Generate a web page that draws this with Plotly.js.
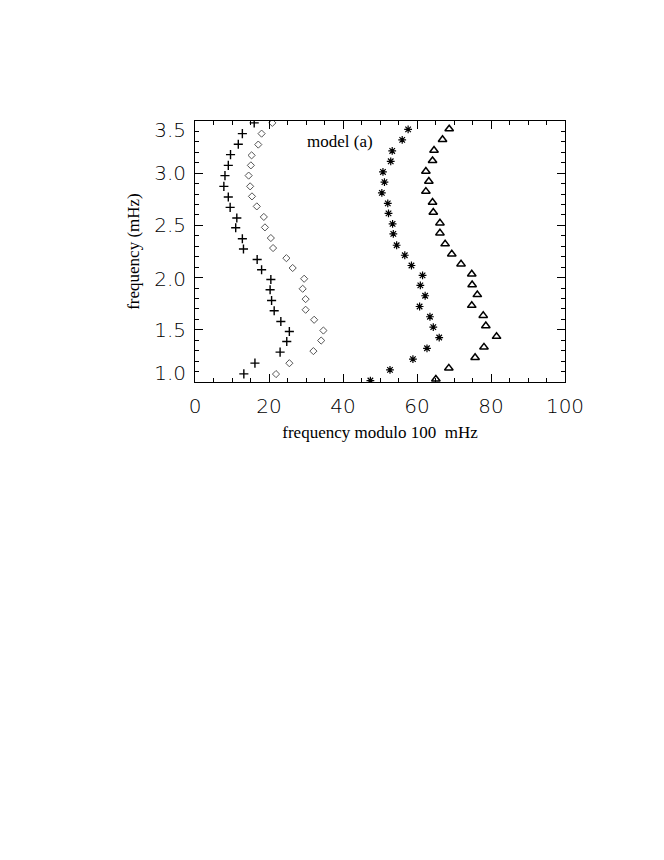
<!DOCTYPE html>
<html>
<head>
<meta charset="utf-8">
<script src="https://cdn.plot.ly/plotly-3.0.1.min.js"></script>
<style>html,body{margin:0;padding:0;background:#fff;}#chart{width:664px;height:860px;}</style>
</head>
<body>
<div id="chart"></div>
<script>
// Frequencies (mHz) and frequency modulo 100 (µHz)
var plusFreq = [1.078,1.181,1.286,1.388,1.484,1.580,1.682,1.781,1.884,1.982,2.075,2.174,2.274,2.372,2.478,2.571,2.673,2.772,2.874,2.977,3.075,3.178,3.277,3.379,3.482];
var plusMod  = [13.2,16.2,23.0,24.8,25.5,23.2,21.4,20.7,20.3,20.5,18.0,16.8,13.1,12.8,11.0,11.3,9.5,9.0,7.8,8.1,9.0,9.6,11.7,12.8,16.0];

var diamondFreq = [1.076,1.180,1.296,1.397,1.493,1.596,1.692,1.794,1.893,1.989,2.092,2.186,2.283,2.379,2.481,2.581,2.682,2.778,2.874,2.977,3.075,3.171,3.274,3.379,3.482];
var diamondMod  = [21.9,25.5,32.0,34.1,34.7,32.2,29.9,29.9,29.1,29.5,26.4,24.7,21.1,20.5,18.9,18.6,16.7,15.4,14.9,14.5,15.1,15.3,17.1,18.0,20.9];

var starFreq = [1.014,1.116,1.219,1.323,1.426,1.526,1.625,1.723,1.826,1.925,2.021,2.116,2.214,2.310,2.419,2.514,2.615,2.711,2.812,2.914,3.012,3.114,3.213,3.319,3.420];
var starMod  = [47.4,52.7,58.9,62.7,66.0,64.4,63.5,60.7,62.2,60.9,61.5,58.5,56.7,54.5,53.6,53.4,52.3,52.1,50.5,51.2,50.8,52.9,53.3,56.0,57.6];

var triFreq = [1.027,1.133,1.234,1.334,1.436,1.538,1.637,1.733,1.836,1.931,2.034,2.130,2.226,2.322,2.427,2.523,2.625,2.721,2.826,2.922,3.018,3.120,3.219,3.322,3.424];
var triMod  = [65.1,68.6,75.7,78.1,81.5,78.6,77.9,74.8,76.3,74.9,74.8,71.9,69.4,67.6,66.2,66.2,64.4,64.2,62.4,63.2,62.4,64.2,64.6,66.9,68.7];

var xTickVals = [0,20,40,60,80,100];
var yLabelText = ['1.0','1.5','2.0','2.5','3.0','3.5'];

var tickFont = {family:'DejaVu Sans, sans-serif', size:20, color:'#000', weight:200};
var serif = 'Liberation Serif, Times New Roman, serif';

var traces = [
  {x:plusMod, y:plusFreq, mode:'markers', type:'scatter',
   marker:{symbol:'cross-thin-open', size:6.5, color:'#000', line:{color:'#000', width:1.4}}},
  {x:diamondMod, y:diamondFreq, mode:'markers', type:'scatter',
   marker:{symbol:'diamond-open', size:5.5, color:'#555', line:{color:'#555', width:1}}},
  {x:starMod, y:starFreq, mode:'markers', type:'scatter',
   marker:{symbol:'asterisk-open', size:6.5, color:'#000', line:{color:'#000', width:1.2}}},
  {x:triMod, y:triFreq, mode:'markers', type:'scatter',
   marker:{symbol:'triangle-up-open', size:7.5, color:'#000', line:{color:'#000', width:1.5}}},
  {x:[], y:[], yaxis:'y2', type:'scatter', mode:'markers', hoverinfo:'skip', showlegend:false}
];

var layout = {
  width:664, height:860,
  paper_bgcolor:'#fff', plot_bgcolor:'#fff',
  showlegend:false,
  margin:{l:195, r:99, t:121, b:478},
  xaxis:{
    range:[0,100], tickvals:xTickVals, ticks:'inside', ticklen:8, tickwidth:1, tickcolor:'#000',
    minor:{ticks:'inside', ticklen:4, dtick:5, tick0:0, tickcolor:'#000'},
    showline:true, linecolor:'#000', linewidth:1, mirror:'ticks',
    showgrid:false, zeroline:false, tickfont:tickFont, ticklabelstandoff:6,
    title:{text:'frequency modulo 100  mHz', font:{family:serif, size:17, color:'#000'}, standoff:9}
  },
  yaxis:{
    range:[1.0,3.5], tick0:1.0, dtick:0.5, ticks:'inside', ticklen:8, tickwidth:1, tickcolor:'#000',
    minor:{ticks:'inside', ticklen:4, dtick:0.1, tick0:1.0, tickcolor:'#000'},
    showline:true, linecolor:'#000', linewidth:1, mirror:'ticks',
    showgrid:false, zeroline:false, showticklabels:false
  },
  yaxis2:{
    overlaying:'y', side:'left', range:[1.0,3.5],
    tickvals:[1.085,1.5,1.99,2.5,3.0,3.415], ticktext:yLabelText,
    ticks:'', showline:false, showgrid:false, zeroline:false,
    tickfont:tickFont, ticklabelstandoff:8,
    title:{text:'frequency (mHz)', font:{family:serif, size:17, color:'#000'}, standoff:10}
  },
  annotations:[{
    text:'model (a)', xref:'paper', yref:'paper', x:0.392, y:0.92,
    xanchor:'center', yanchor:'middle',
    showarrow:false, font:{family:serif, size:17, color:'#000'}
  }]
};

Plotly.newPlot('chart', traces, layout, {staticPlot:true, displayModeBar:false});
</script>
</body>
</html>
